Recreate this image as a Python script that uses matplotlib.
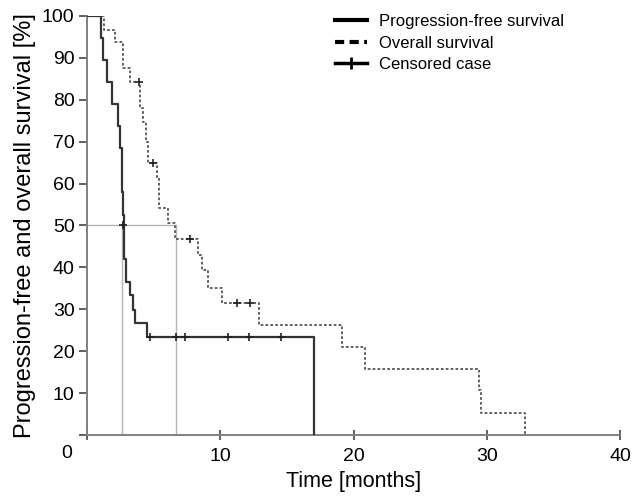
import matplotlib
matplotlib.use('Agg')
import matplotlib.pyplot as plt
from matplotlib.lines import Line2D

plt.rcParams['font.family'] = ['Liberation Sans', 'DejaVu Sans']

# progression-free survival (Kaplan-Meier steps), months / %
pfs_time = [0, 1.05, 1.2, 1.5, 1.85, 2.3, 2.5, 2.62, 2.66, 2.7, 2.75, 2.8, 2.9, 3.2, 3.45, 3.6, 4.5, 17.0]
pfs_surv = [100, 94.7, 89.5, 84.2, 78.9, 73.7, 68.4, 63.2, 57.9, 52.6, 47.4, 42.1, 36.5, 33.4, 29.8, 26.7, 23.4, 0]
pfs_cens_t = [2.72, 4.7, 6.7, 7.35, 10.6, 12.15, 14.55]
pfs_cens_s = [50, 23.4, 23.4, 23.4, 23.4, 23.4, 23.4]

# overall survival
os_time = [0, 1.3, 2.1, 2.7, 3.2, 4.0, 4.2, 4.45, 4.55, 5.25, 5.4, 6.1, 6.6, 8.3, 8.6, 9.1, 10.1, 12.9, 19.1, 20.85, 29.4, 29.6, 32.9]
os_surv = [100, 96.7, 93.8, 87.6, 84.2, 78.0, 74.7, 70.0, 65.0, 61.3, 54.2, 50.6, 46.8, 43.0, 39.4, 35.1, 31.5, 26.3, 21.0, 15.8, 10.7, 5.3, 0]
os_cens_t = [3.9, 4.95, 7.75, 11.25, 12.2]
os_cens_s = [84.2, 65.0, 46.8, 31.5, 31.5]

# medians
pfs_median = 2.6
os_median = 6.65

fig = plt.figure(figsize=(6.33, 4.98), dpi=100)
ax = fig.add_axes([87/633, 63/498, 533/633, 419/498])

# median guide lines
ax.plot([0, os_median], [50, 50], color='#b4b4b4', lw=1, zorder=1)
ax.plot([pfs_median, pfs_median], [0, 50], color='#b4b4b4', lw=1, zorder=1)
ax.plot([os_median, os_median], [0, 50], color='#b4b4b4', lw=1, zorder=1)

ax.step(pfs_time, pfs_surv, where='post', color='#333333', lw=1.6, zorder=3)
ax.step(os_time, os_surv, where='post', color='#555555', lw=1.3,
        linestyle=(0, (1.5, 1.2)), zorder=2)
ax.plot(pfs_cens_t, pfs_cens_s, '+', color='#222222', ms=5.5, mew=1.2, zorder=4)
ax.plot(os_cens_t, os_cens_s, '+', color='#222222', ms=5.5, mew=1.2, zorder=4)

ax.set_xlim(0, 40)
ax.set_ylim(0, 100)
for s in ['top', 'right']:
    ax.spines[s].set_visible(False)
for s in ['left', 'bottom']:
    ax.spines[s].set_color('#808080')
    ax.spines[s].set_linewidth(1.4)

ax.set_xticks([0, 10, 20, 30, 40])
ax.set_xticklabels(['', '10', '20', '30', '40'])
ax.set_yticks(range(0, 101, 10))
ax.set_yticklabels([''] + [str(v) for v in range(10, 101, 10)])
ax.tick_params(axis='x', direction='inout', length=7, width=1.4, color='#606060',
               labelsize=14, pad=6)
ax.tick_params(axis='y', direction='out', length=6, width=1.4, color='#606060',
               labelsize=14, pad=3)
ax.annotate('0', xy=(0, 0), xycoords='data', xytext=(-20, -10),
            textcoords='offset pixels', ha='center', va='top', fontsize=14)

ax.set_xlabel('Time [months]', fontsize=15.5, labelpad=4)
ax.set_ylabel('Progression-free and overall survival [%]', fontsize=17, labelpad=4)

handles = [
    Line2D([], [], color='black', lw=3),
    Line2D([], [], color='black', lw=3, linestyle=(0, (2.2, 1.3))),
    Line2D([], [], color='black', lw=2.5, marker='|', ms=9, mew=2),
]
ax.legend(handles, ['Progression-free survival', 'Overall survival', 'Censored case'],
          loc='upper left', bbox_to_anchor=(0.45, 1.025), frameon=False,
          fontsize=12, handlelength=1.9, handletextpad=0.75, labelspacing=0.4,
          borderpad=0)

fig.savefig('out.png', dpi=100)
